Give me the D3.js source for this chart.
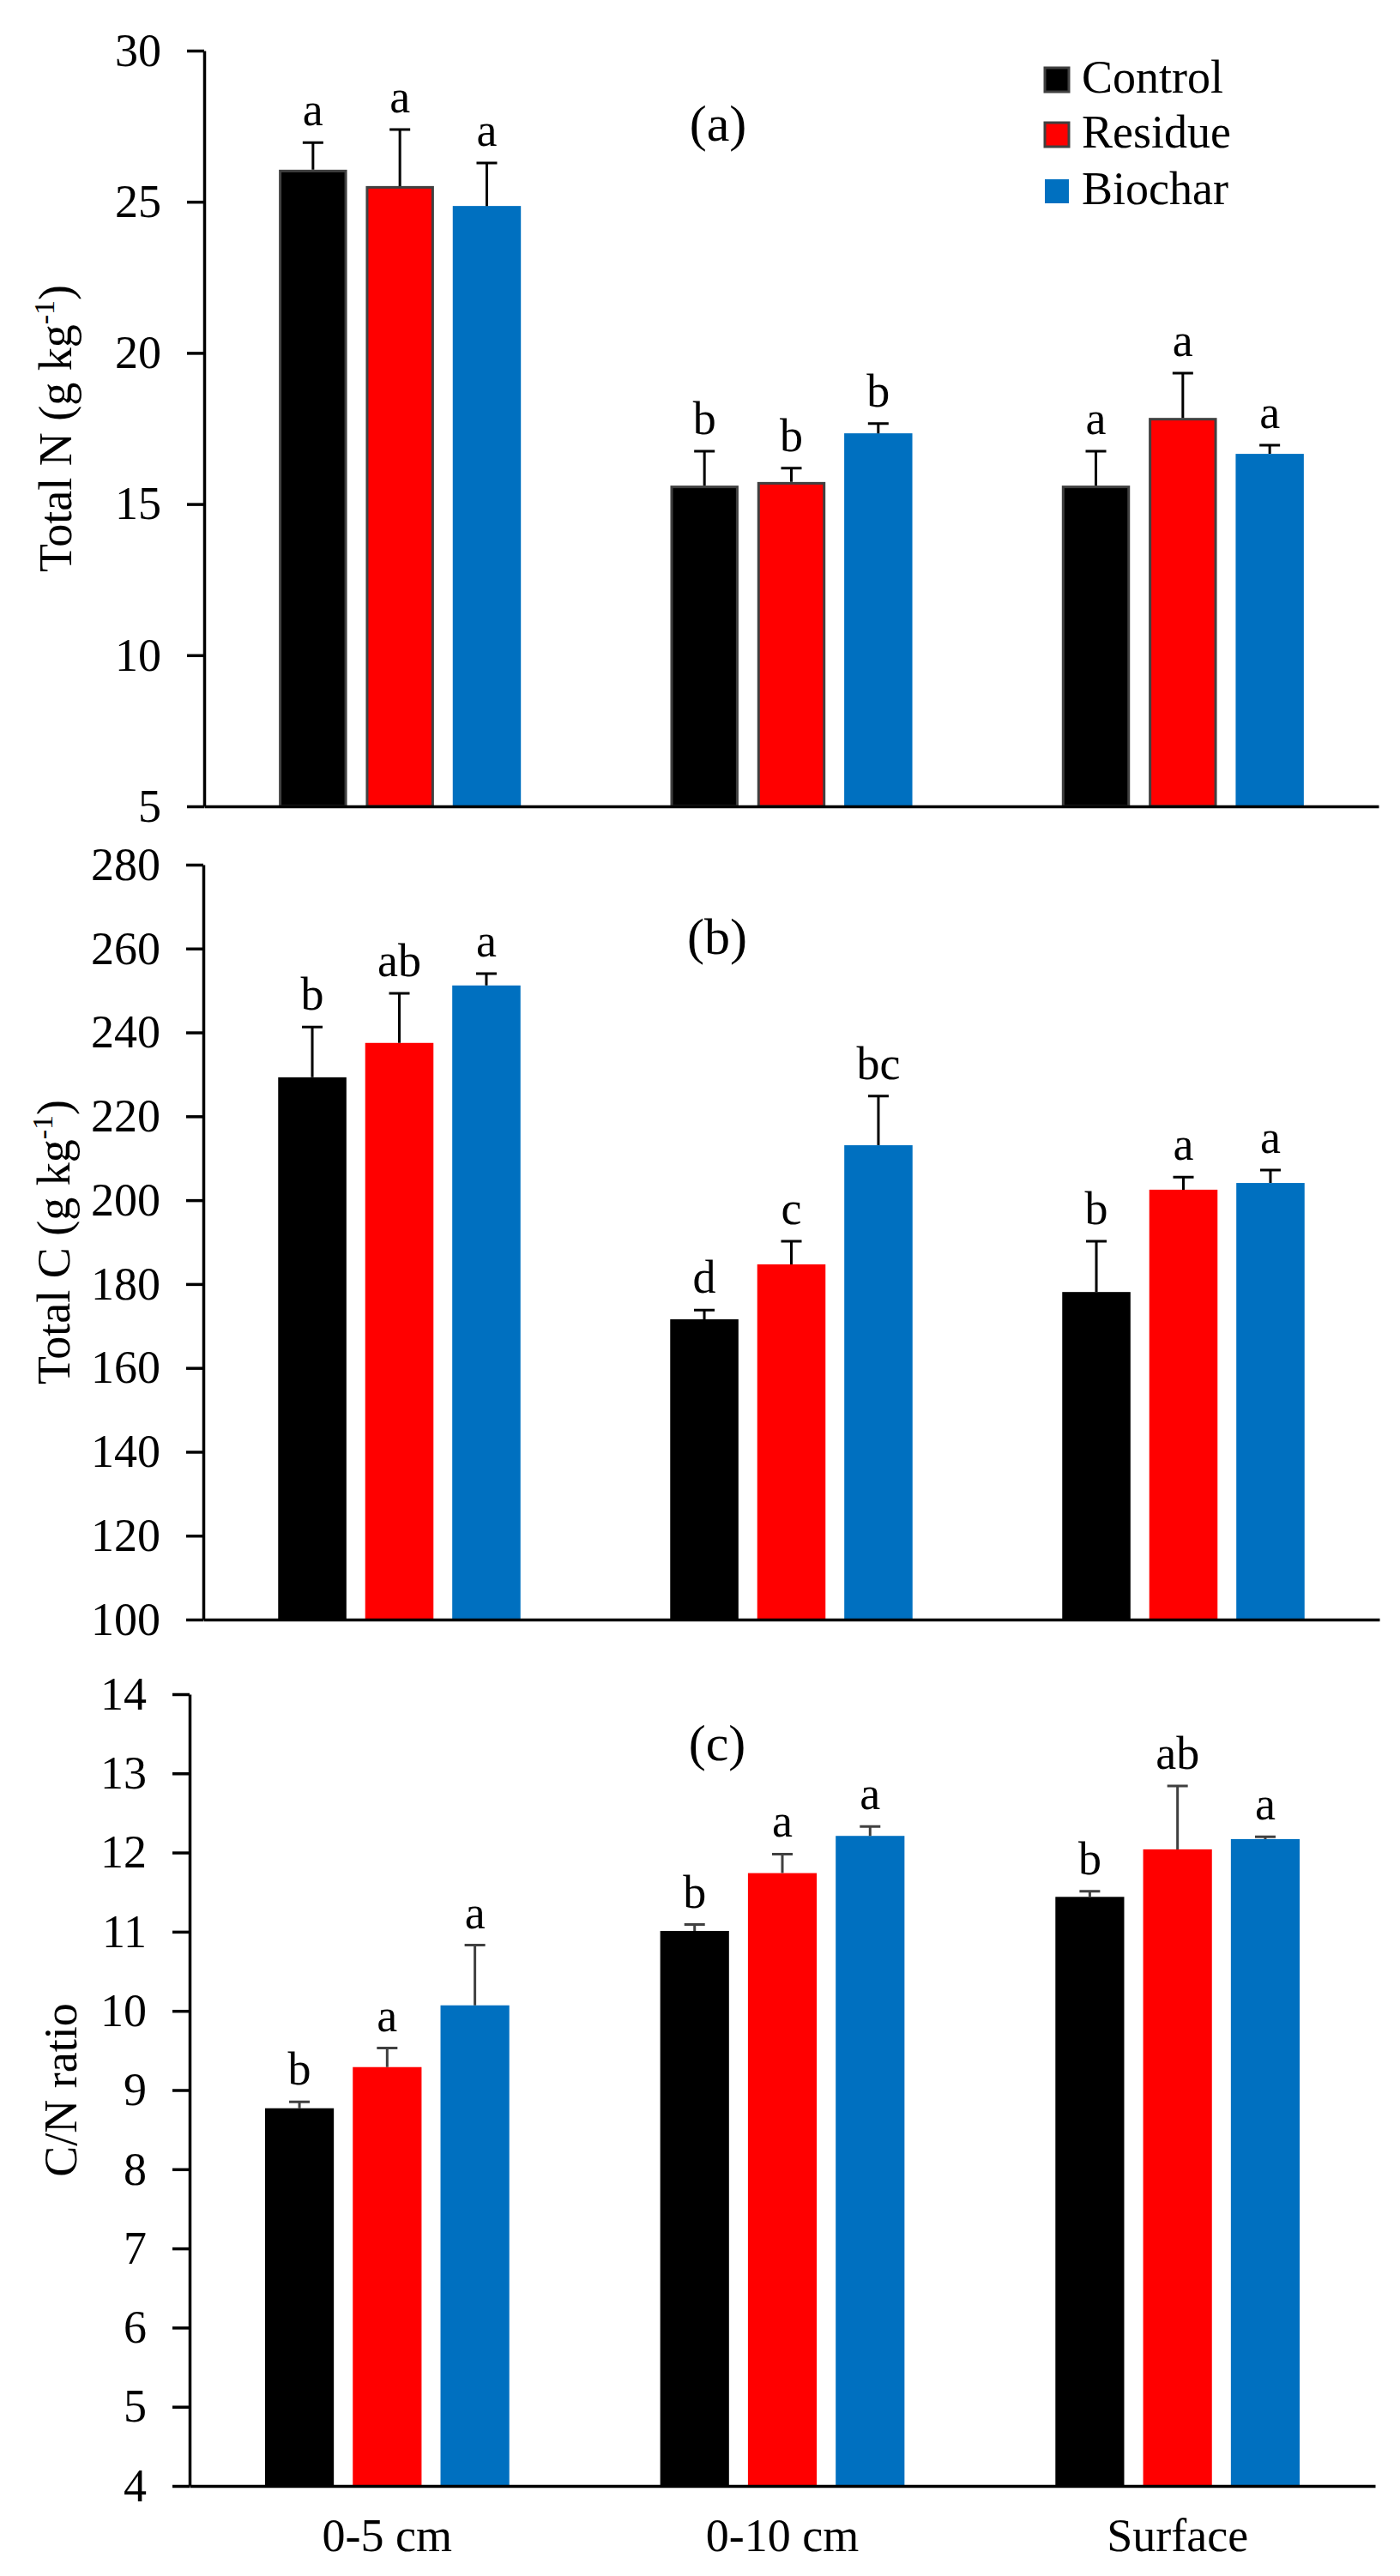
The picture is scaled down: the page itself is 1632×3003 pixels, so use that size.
<!DOCTYPE html>
<html>
<head>
<meta charset="utf-8">
<script src="https://cdn.jsdelivr.net/npm/d3@7/dist/d3.min.js"></script>
<style>
  html, body { margin: 0; padding: 0; background: #fff; }
  svg { display: block; }
  text { font-family: "Liberation Serif", "Times New Roman", serif; fill: #000; }
</style>
</head>
<body>
<div id="chart"></div>
<script>
// ---------------- DATA ----------------
const categories = ["0-5 cm", "0-10 cm", "Surface"];
const series = ["Control", "Residue", "Biochar"];

// Total N (g kg-1)
const nControl = [26.06, 15.61, 15.61];
const nResidue = [25.52, 15.73, 17.85];
const nBiochar = [24.86, 17.34, 16.66];
const nControlErr = [0.90, 1.14, 1.14];
const nResidueErr = [1.87, 0.46, 1.48];
const nBiocharErr = [1.42, 0.32, 0.29];
const nControlSig = ["a", "b", "a"];
const nResidueSig = ["a", "b", "a"];
const nBiocharSig = ["a", "b", "a"];
const nTicks = [5, 10, 15, 20, 25, 30];

// Total C (g kg-1)
const cControl = [229.3, 171.6, 178.1];
const cResidue = [237.5, 184.7, 202.5];
const cBiochar = [251.2, 213.1, 204.1];
const cControlErr = [12.0, 2.2, 12.1];
const cResidueErr = [11.8, 5.5, 3.0];
const cBiocharErr = [2.8, 11.7, 3.1];
const cControlSig = ["b", "d", "b"];
const cResidueSig = ["ab", "c", "a"];
const cBiocharSig = ["a", "bc", "a"];
const cTicks = [100, 120, 140, 160, 180, 200, 220, 240, 260, 280];

// C/N ratio
const cnControl = [8.77, 11.01, 11.44];
const cnResidue = [9.29, 11.74, 12.04];
const cnBiochar = [10.07, 12.21, 12.17];
const cnControlErr = [0.08, 0.08, 0.07];
const cnResidueErr = [0.24, 0.24, 0.80];
const cnBiocharErr = [0.76, 0.12, 0.03];
const cnControlSig = ["b", "b", "b"];
const cnResidueSig = ["a", "a", "ab"];
const cnBiocharSig = ["a", "a", "a"];
const cnTicks = [4, 5, 6, 7, 8, 9, 10, 11, 12, 13, 14];

const colors = { Control: "#000000", Residue: "#FF0000", Biochar: "#0070C0" };

// ---------------- LAYOUT ----------------
const W = 1632, H = 3003;
const FS = 54;

const svg = d3.select("#chart").append("svg")
  .attr("width", W).attr("height", H).attr("viewBox", `0 0 ${W} ${H}`);

function buildRows(m, e, s) {
  return categories.map((cat, i) => series.map((ser, j) => ({
    cat, ser, v: m[j][i], err: e[j][i], sig: s[j][i]
  })));
}

const panels = [
  {
    rows: buildRows([nControl, nResidue, nBiochar], [nControlErr, nResidueErr, nBiocharErr], [nControlSig, nResidueSig, nBiocharSig]),
    domain: [5, 30], ticks: nTicks, top: 59, bottom: 940, left: 238, right: 1607,
    title: "Total N (g kg", titleX: 83, label: "(a)", labelX: 837, labelY: 164,
    errColor: "#000", outline: true, xLabels: false
  },
  {
    rows: buildRows([cControl, cResidue, cBiochar], [cControlErr, cResidueErr, cBiocharErr], [cControlSig, cResidueSig, cBiocharSig]),
    domain: [100, 280], ticks: cTicks, top: 1008, bottom: 1888, left: 237, right: 1608,
    title: "Total C (g kg", titleX: 81, label: "(b)", labelX: 836, labelY: 1112,
    errColor: "#000", outline: false, xLabels: false
  },
  {
    rows: buildRows([cnControl, cnResidue, cnBiochar], [cnControlErr, cnResidueErr, cnBiocharErr], [cnControlSig, cnResidueSig, cnBiocharSig]),
    domain: [4, 14], ticks: cnTicks, top: 1975, bottom: 2898, left: 221, right: 1603,
    title: "C/N ratio", titleX: 89, label: "(c)", labelX: 836, labelY: 2052,
    errColor: "#404040", outline: false, xLabels: true
  }
];

panels.forEach(p => {
  const g = svg.append("g");
  const y = d3.scaleLinear().domain(p.domain).range([p.bottom, p.top]);
  const x0 = d3.scaleBand().domain(categories).range([p.left, p.right]).paddingInner(0).paddingOuter(0);
  const x1 = d3.scaleBand().domain(series).range([0, x0.bandwidth()]).paddingInner(0.216).paddingOuter(0.86);

  // bars
  const grp = g.selectAll("g.grp").data(p.rows).enter().append("g")
    .attr("transform", d => `translate(${x0(d[0].cat)},0)`);

  grp.selectAll("rect").data(d => d).enter().append("rect")
    .attr("x", d => x1(d.ser) + (p.outline && d.ser !== "Biochar" ? 1.5 : 0))
    .attr("width", d => x1.bandwidth() - (p.outline && d.ser !== "Biochar" ? 3 : 0))
    .attr("y", d => y(d.v) + (p.outline && d.ser !== "Biochar" ? 1.5 : 0))
    .attr("height", d => p.bottom - y(d.v) - (p.outline && d.ser !== "Biochar" ? 1.5 : 0))
    .attr("fill", d => colors[d.ser])
    .attr("stroke", d => (p.outline && d.ser !== "Biochar") ? "#404040" : "none")
    .attr("stroke-width", 3);

  // error bars
  const cap = 12;
  grp.selectAll("path.err").data(d => d).enter().append("path")
    .attr("class", "err")
    .attr("d", d => {
      const cx = x1(d.ser) + x1.bandwidth() / 2;
      const yt = y(d.v + d.err), yb = y(d.v);
      return `M${cx},${yb}V${yt}M${cx - cap},${yt}H${cx + cap}`;
    })
    .attr("fill", "none").attr("stroke", p.errColor).attr("stroke-width", 3);

  // significance letters
  grp.selectAll("text.sig").data(d => d).enter().append("text")
    .attr("class", "sig")
    .attr("x", d => x1(d.ser) + x1.bandwidth() / 2)
    .attr("y", d => y(d.v + d.err) - 20)
    .attr("text-anchor", "middle")
    .attr("font-size", FS)
    .text(d => d.sig);

  // y axis
  const yAxis = d3.axisLeft(y).tickValues(p.ticks).tickSize(20).tickSizeOuter(0).tickPadding(30);
  const ya = g.append("g").attr("transform", `translate(${p.left},0)`).call(yAxis);
  ya.select(".domain").attr("stroke", "#000").attr("stroke-width", 3.5);
  ya.selectAll(".tick line").attr("stroke", "#000").attr("stroke-width", 3.5);
  ya.selectAll(".tick text").attr("font-size", FS)
    .attr("font-family", "'Liberation Serif', 'Times New Roman', serif").attr("fill", "#000");

  // x axis
  const xAxis = d3.axisBottom(x0).tickSize(0).tickPadding(38).tickSizeOuter(0);
  const xa = g.append("g").attr("transform", `translate(0,${p.bottom})`).call(xAxis);
  xa.select(".domain").attr("stroke", "#000").attr("stroke-width", 3.5);
  xa.selectAll(".tick text").attr("font-size", FS)
    .attr("font-family", "'Liberation Serif', 'Times New Roman', serif").attr("fill", "#000");
  if (!p.xLabels) xa.selectAll(".tick text").remove();

  // y title
  const cy = (p.top + p.bottom) / 2;
  const t = g.append("text")
    .attr("transform", `translate(${p.titleX},${cy}) rotate(-90)`)
    .attr("text-anchor", "middle")
    .attr("font-size", FS);
  if (p.title.indexOf("(g kg") >= 0) {
    t.append("tspan").text(p.title);
    t.append("tspan").attr("font-size", 34).attr("dy", -20).text("-1");
    t.append("tspan").attr("dy", 20).text(")");
  } else {
    t.text(p.title);
  }

  // panel label
  g.append("text").attr("x", p.labelX).attr("y", p.labelY)
    .attr("text-anchor", "middle").attr("font-size", 60).text(p.label);
});

// legend (in panel a)
const legendY = [108, 172, 238];
const lg = svg.append("g");
series.forEach((s, i) => {
  lg.append("rect")
    .attr("x", 1218).attr("y", legendY[i] - 29).attr("width", 28).attr("height", 28)
    .attr("fill", colors[s])
    .attr("stroke", s === "Biochar" ? "none" : "#404040").attr("stroke-width", 3);
  lg.append("text").attr("x", 1261).attr("y", legendY[i])
    .attr("font-size", FS).text(s);
});
</script>
</body>
</html>
